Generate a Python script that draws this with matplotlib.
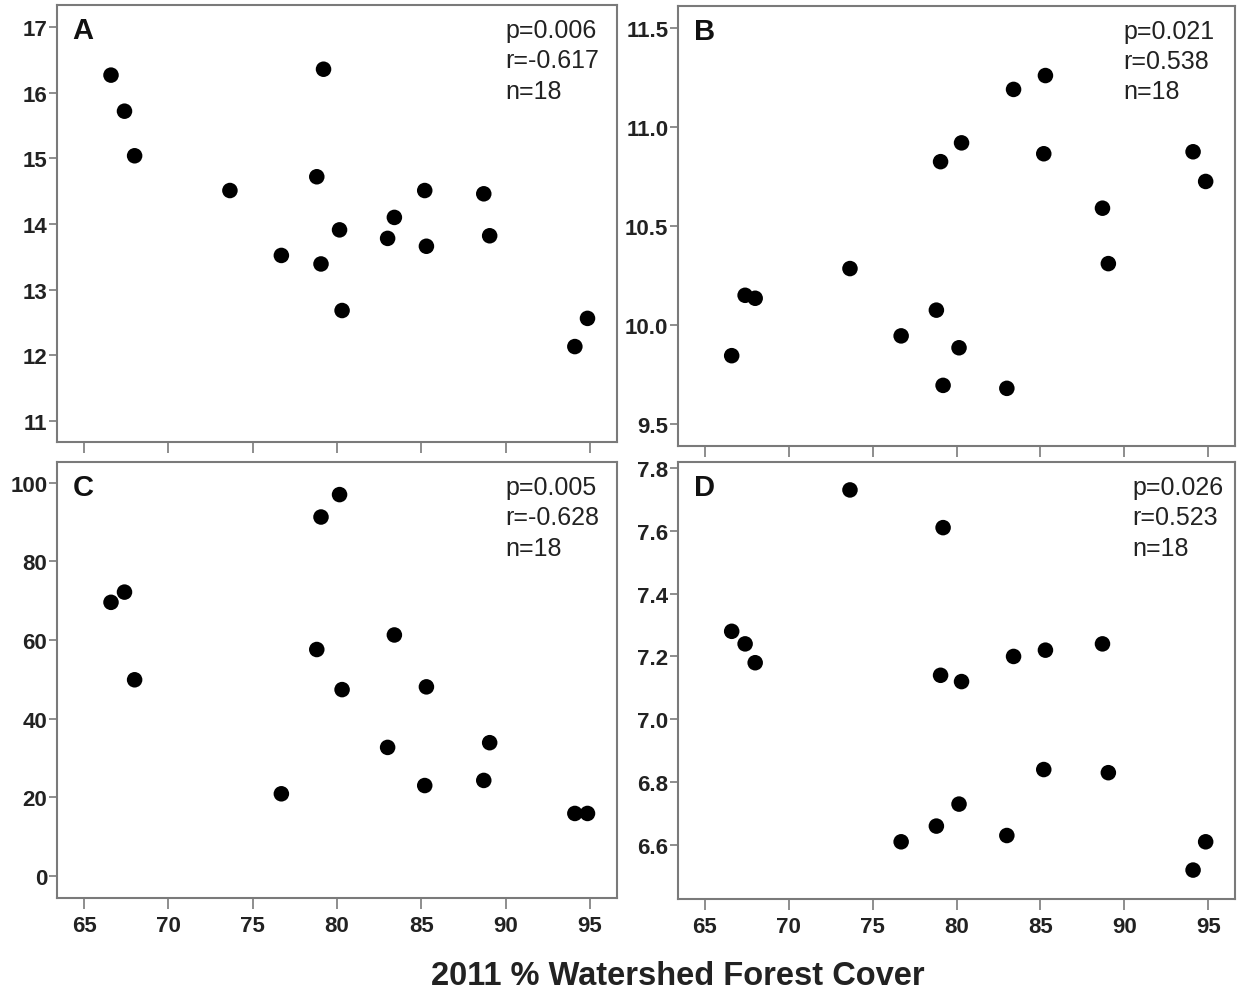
import numpy as np
import matplotlib
matplotlib.use("Agg")
from matplotlib import pyplot as plt

plt.rcParams['font.family'] = ['Liberation Sans', 'DejaVu Sans']

# 2011 % watershed forest cover for the 18 sites
forest = [66.6, 67.4, 68.0, 73.65, 76.7, 78.8, 79.05, 79.2, 80.15, 80.3,
          83.0, 83.4, 85.2, 85.3, 88.7, 89.05, 94.1, 94.85]

ya = [16.27, 15.72, 15.04, 14.51, 13.52, 14.72, 13.39, 16.36, 13.91, 12.68,
      13.78, 14.10, 14.51, 13.66, 14.46, 13.82, 12.13, 12.56]
yb = [9.845, 10.15, 10.135, 10.285, 9.945, 10.075, 10.825, 9.695, 9.885, 10.92,
      9.68, 11.19, 10.865, 11.26, 10.59, 10.31, 10.875, 10.725]
yc = [69.6, 72.2, 49.9, np.nan, 20.9, 57.6, 91.3, np.nan, 97.0, 47.4,
      32.7, 61.3, 23.0, 48.1, 24.3, 33.9, 15.9, 15.9]
yd = [7.28, 7.24, 7.18, 7.73, 6.61, 6.66, 7.14, 7.61, 6.73, 7.12,
      6.63, 7.20, 6.84, 7.22, 7.24, 6.83, 6.52, 6.61]

letters = ["A", "B", "C", "D"]
stats = ["p=0.006\nr=-0.617\nn=18", "p=0.021\nr=0.538\nn=18",
         "p=0.005\nr=-0.628\nn=18", "p=0.026\nr=0.523\nn=18"]
xticks = [65, 70, 75, 80, 85, 90, 95]

fig = plt.figure(figsize=(12.37, 9.95), dpi=100)

# [left, bottom, width, height]
boxes = [[0.0461, 0.5548, 0.4527, 0.4392],
         [0.5481, 0.5510, 0.4503, 0.4423],
         [0.0461, 0.0965, 0.4527, 0.4382],
         [0.5481, 0.0955, 0.4503, 0.4392]]
ylims = [(10.675, 17.34), (9.39, 11.613), (-5.6, 105.3), (6.428, 7.819)]
yticks = [[11, 12, 13, 14, 15, 16, 17],
          [9.5, 10.0, 10.5, 11.0, 11.5],
          [0, 20, 40, 60, 80, 100],
          [6.6, 6.8, 7.0, 7.2, 7.4, 7.6, 7.8]]
yfmt = ["{:.0f}", "{:.1f}", "{:.0f}", "{:.1f}"]
stat_x = [0.80, 0.80, 0.80, 0.815]

for i, ys in enumerate([ya, yb, yc, yd]):
    ax = fig.add_axes(boxes[i])
    ax.scatter(forest, ys, s=125, color="black", edgecolors="none", zorder=3)
    ax.set_xlim(63.4, 96.6)
    ax.set_ylim(*ylims[i])
    ax.set_xticks(xticks)
    ax.set_yticks(yticks[i])
    ax.set_yticklabels([yfmt[i].format(v) for v in yticks[i]])
    if i < 2:
        ax.set_xticklabels([])
    for sp in ax.spines.values():
        sp.set_color("#7a7a7a")
        sp.set_linewidth(1.5)
    ax.tick_params(axis="both", direction="out", length=6, width=1.2,
                   color="#7a7a7a", labelsize=16, pad=1)
    ax.tick_params(axis="x", length=8, pad=4)
    for lab in ax.get_xticklabels() + ax.get_yticklabels():
        lab.set_fontweight("bold")
        lab.set_color("#222222")
    ax.text(0.028, 0.975, letters[i], transform=ax.transAxes, fontsize=21,
            fontweight="bold", va="top", ha="left", color="#111111")
    ax.text(stat_x[i], 0.97, stats[i], transform=ax.transAxes, fontsize=18,
            va="top", ha="left", linespacing=1.33, color="#222222")

fig.text(0.548, 0.019, "2011 % Watershed Forest Cover", ha="center",
         va="center", fontsize=23.5, fontweight="bold", color="#222222")

fig.savefig("out.png", dpi=100)
